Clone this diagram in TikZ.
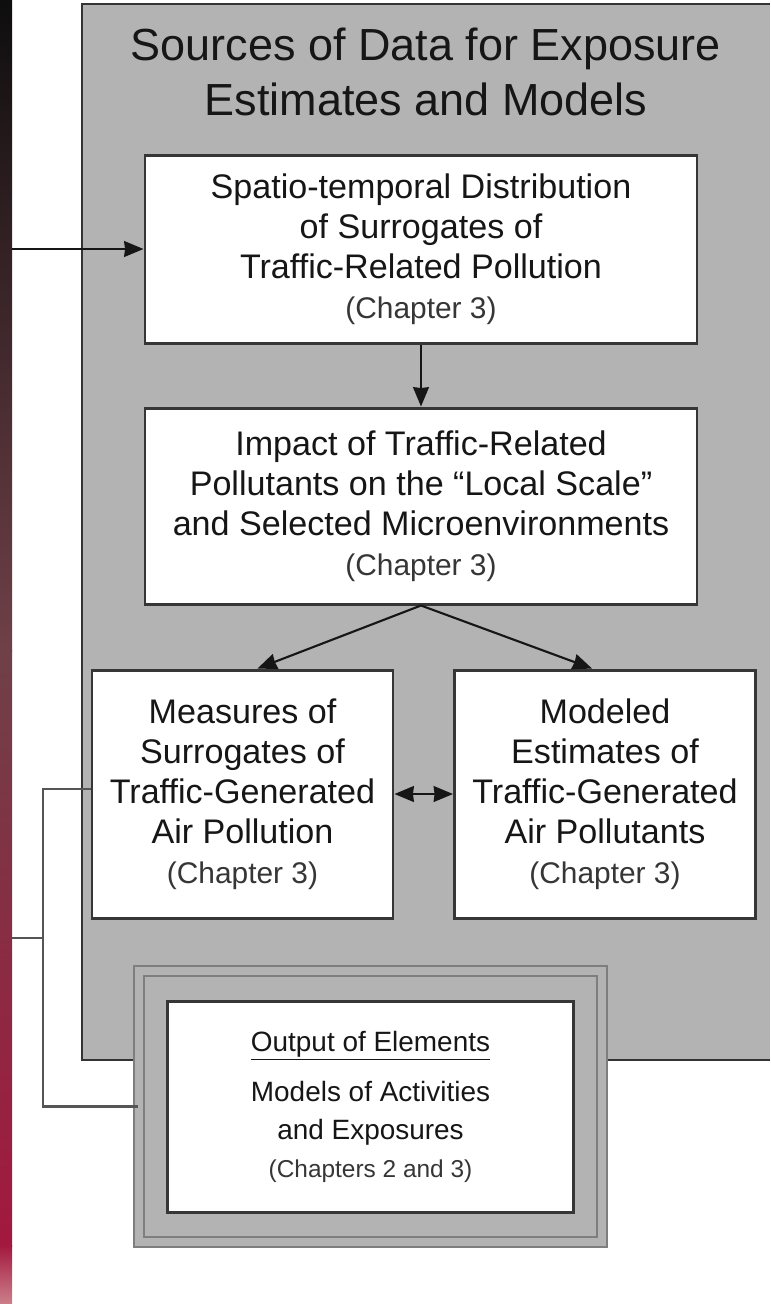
\documentclass[tikz,border=0pt]{standalone}
\usepackage{fontspec}
\setmainfont{Liberation Sans}
\usetikzlibrary{shapes.geometric, arrows.meta}
\definecolor{panelgray}{HTML}{B3B3B3}
\definecolor{panelline}{HTML}{333333}
\definecolor{boxline}{HTML}{363636}
\definecolor{framegray}{HTML}{7E7E7E}
\definecolor{wiregray}{HTML}{555555}
\definecolor{inkdark}{HTML}{161616}
\definecolor{chapgray}{HTML}{363636}
\definecolor{stripdark}{HTML}{0E0E0E}
\definecolor{stripbrown}{HTML}{3D2C2C}
\definecolor{stripmid}{HTML}{6F4048}
\definecolor{stripwine}{HTML}{8C3048}
\definecolor{stripred}{HTML}{A3183F}
\definecolor{strippink}{HTML}{CC7F8B}
\newcommand{\srcfont}{\fontsize{19.4}{22.8}\selectfont}
\newcommand{\chapnote}{\fontsize{17}{20}\selectfont\color{chapgray}}
\newcommand{\headfont}{\fontsize{25.6}{31.3}\selectfont}
\newcommand{\outfont}{\fontsize{15.9}{21.5}\selectfont}
\newcommand{\outchap}{\fontsize{13.9}{18}\selectfont\color{chapgray}}
\tikzstyle{paneltitle} = [align=center, text=inkdark, font=\headfont, inner sep=0pt]
\tikzstyle{srcbox} = [rectangle, minimum width=11.04cm, minimum height=3.76cm, text centered, align=center, draw=boxline, line width=1.7pt, fill=white, text=inkdark, font=\srcfont, inner sep=0pt]
\tikzstyle{sidebox} = [srcbox, minimum width=6.02cm, minimum height=4.96cm]
\tikzstyle{outframe} = [rectangle, minimum width=9.26cm, minimum height=5.42cm, draw=framegray, line width=1.3pt, double=panelgray, double distance=0.15cm, fill=panelgray]
\tikzstyle{outbox} = [rectangle, minimum width=8.12cm, minimum height=4.22cm, text centered, align=center, draw=boxline, line width=1.7pt, fill=white, text=inkdark, font=\outfont, inner sep=0pt]
\tikzstyle{arrow} = [line width=1.2pt, draw=inkdark, ->, >={Stealth[length=11pt, width=9pt, inset=0.5pt]}]
\tikzstyle{bothways} = [arrow, <->]
\tikzstyle{wire} = [line width=1.5pt, draw=wiregray]

\begin{document}
\begin{tikzpicture}[node distance=5.14cm]
\useasboundingbox (0,0) rectangle (15.4,-26.08);

%Strip
\shade[top color=stripdark, middle color=stripbrown, bottom color=stripmid] (0,0) rectangle (0.24,-13.02);
\shade[top color=stripmid, middle color=stripwine, bottom color=stripred] (0,-13) rectangle (0.24,-24.92);
\shade[top color=stripred, bottom color=strippink] (0,-24.9) rectangle (0.24,-26.08);

%Panel
\fill[panelgray] (1.64,-0.08) rectangle (15.4,-21.2);
\draw[panelline, line width=1.5pt] (15.4,-0.08) -- (1.64,-0.08) -- (1.64,-21.2) -- (15.4,-21.2);

%Boxes
\node (spatial) [srcbox] at (8.42,-4.98) {Spatio-temporal Distribution\\of Surrogates of\\Traffic-Related Pollution\\{\chapnote (Chapter 3)}};
\node (title) [paneltitle, above of=spatial, xshift=0.1cm, yshift=-1.6cm] {Sources of Data for Exposure\\Estimates and Models};
\node (impact) [srcbox, below of=spatial, minimum height=3.92cm] {Impact of Traffic-Related\\Pollutants on the “Local Scale”\\and Selected Microenvironments\\{\chapnote (Chapter 3)}};
\node (measures) [sidebox, below of=impact, xshift=-3.57cm, yshift=-0.62cm] {Measures of\\Surrogates of\\Traffic-Generated\\Air Pollution\\{\chapnote (Chapter 3)}};
\node (modeled) [sidebox, right of=measures, xshift=2.11cm] {Modeled\\Estimates of\\Traffic-Generated\\Air Pollutants\\{\chapnote (Chapter 3)}};
%Output
\node (output) [outframe, below of=measures, xshift=2.56cm, yshift=-1.11cm] {};
\node (outtext) [outbox] at (output) {\underline{Output of Elements}\\[0.25cm]Models of Activities\\and Exposures\\{\outchap (Chapters 2 and 3)}};

%Ports
\coordinate (inlet) at (0.24,-4.98);
\coordinate (tap) at (0.86,-18.76);
\coordinate (outlet) at (0.24,-18.76);

%arrows
\draw [arrow] (inlet) -- (spatial.west);
\draw [arrow] (spatial.south) -- (impact.north);
\draw [arrow] (impact.south) -- ([xshift=0.3cm]measures.north);
\draw [arrow] (impact.south) -- ([xshift=-0.26cm]modeled.north);
\draw [bothways] (measures.east) -- (modeled.west);
\draw [wire] ([yshift=0.1cm]measures.west) -| (tap |- output.west) -- (output.west);
\draw [wire] (outlet) -- (tap);

\end{tikzpicture}
\end{document}
